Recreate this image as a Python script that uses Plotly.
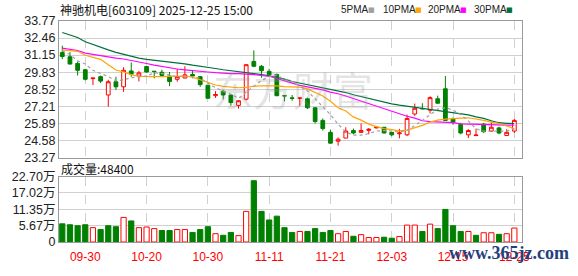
import plotly.graph_objects as go

# ---------------- data ----------------
opens = [31.34, 31.02, 30.51, 30.02, 29.34, 29.49, 28.08, 29.10, 28.71, 29.93,
         29.54, 30.27, 29.91, 29.83, 29.54, 29.29, 29.39, 29.66, 29.49, 28.83,
         28.03, 28.37, 28.08, 27.28, 27.76, 30.66, 30.29, 29.90, 29.66, 28.03,
         27.86, 27.83, 27.79, 27.10, 26.13, 25.21, 24.53, 24.77, 25.35, 25.21,
         25.36, 25.55, 25.60, 25.21, 25.10, 25.02, 26.62, 27.04, 26.91, 27.79,
         28.56, 26.23, 25.84, 25.02, 24.96, 25.84, 25.31, 25.55, 24.97, 25.31]
highs = [31.87, 31.38, 30.66, 30.09, 29.41, 29.58, 29.25, 29.49, 30.22, 30.58,
         29.93, 30.30, 29.91, 30.02, 29.85, 30.09, 30.29, 29.98, 29.54, 28.87,
         28.37, 28.47, 28.12, 27.69, 30.46, 31.51, 30.39, 30.09, 29.73, 28.05,
         28.08, 27.85, 27.88, 27.15, 26.28, 25.40, 24.82, 25.60, 25.50, 25.89,
         25.53, 25.63, 25.62, 25.21, 25.48, 26.57, 27.42, 27.45, 27.98, 28.03,
         29.54, 26.35, 25.94, 25.45, 25.50, 25.94, 26.04, 25.65, 25.45, 26.23]
lows = [30.83, 30.44, 29.58, 29.20, 28.85, 29.00, 27.18, 28.47, 28.32, 29.49,
        29.12, 29.80, 29.36, 29.49, 28.76, 29.10, 29.36, 29.36, 28.71, 27.83,
        27.86, 27.74, 27.25, 27.03, 27.66, 30.22, 29.41, 29.49, 27.98, 27.59,
        27.64, 27.25, 27.01, 25.89, 25.35, 24.33, 24.19, 24.77, 25.06, 25.16,
        25.06, 25.52, 25.14, 24.92, 24.75, 24.92, 26.48, 27.00, 26.67, 27.40,
        26.08, 25.79, 25.06, 24.77, 24.95, 25.16, 25.26, 25.06, 24.92, 25.16]
closes = [31.04, 30.46, 29.98, 29.29, 29.38, 29.15, 29.10, 28.71, 29.98, 29.69,
          29.78, 29.85, 29.89, 29.58, 29.12, 29.49, 29.63, 29.54, 28.88, 27.83,
          28.12, 28.08, 27.50, 27.64, 30.41, 30.29, 29.95, 29.63, 28.03, 28.01,
          27.82, 27.85, 27.10, 26.04, 25.50, 24.38, 24.68, 25.31, 25.16, 25.35,
          25.45, 25.60, 25.16, 25.02, 25.16, 26.28, 27.06, 27.02, 27.88, 27.45,
          26.13, 25.99, 25.16, 25.35, 25.00, 25.26, 25.60, 25.16, 25.21, 26.13]

ma5 = [31.48, 31.19, 30.71, 30.46, 29.98, 29.73, 29.49, 29.17, 29.25, 29.42,
       29.49, 29.54, 29.78, 29.73, 29.61, 29.49, 29.54, 29.49, 29.36, 29.00,
       28.64, 28.39, 28.15, 27.83, 28.27, 28.71, 29.20, 29.49, 29.61, 29.25,
       29.12, 28.76, 28.39, 27.79, 27.18, 26.57, 25.84, 25.24, 24.99, 24.99,
       25.11, 25.31, 25.35, 25.31, 25.24, 25.35, 25.72, 26.13, 26.57, 26.99,
       27.10, 26.94, 26.57, 26.08, 25.48, 25.31, 25.31, 25.31, 25.31, 25.48]
ma10 = [31.55, 31.50, 31.44, 31.14, 31.00, 30.82, 30.40, 30.00, 29.85, 29.65,
        29.52, 29.49, 29.49, 29.49, 29.49, 29.52, 29.54, 29.45, 29.25, 29.05,
        28.85, 28.74, 28.68, 28.64, 28.66, 28.76, 28.78, 28.80, 28.78, 28.72,
        28.71, 28.69, 28.55, 28.30, 28.00, 27.60, 27.10, 26.85, 26.40, 26.15,
        25.84, 25.65, 25.50, 25.42, 25.32, 25.38, 25.55, 25.75, 26.00, 26.15,
        26.22, 26.28, 26.30, 26.33, 26.25, 26.13, 26.00, 25.89, 25.70, 25.48]
ma20 = [31.68, 31.60, 31.50, 31.30, 31.20, 31.10, 30.98, 30.92, 30.85, 30.75,
        30.62, 30.50, 30.38, 30.28, 30.15, 30.08, 30.02, 29.98, 29.93, 29.85,
        29.80, 29.75, 29.73, 29.73, 29.70, 29.65, 29.58, 29.52, 29.35, 29.15,
        29.00, 28.82, 28.70, 28.58, 28.48, 28.30, 28.18, 28.00, 27.80, 27.62,
        27.42, 27.25, 27.00, 26.80, 26.62, 26.45, 26.30, 26.10, 26.03, 26.00,
        26.00, 25.95, 25.86, 25.84, 25.80, 25.78, 25.77, 25.77, 25.77, 25.77]
ma30 = [32.89, 32.70, 32.50, 32.17, 31.95, 31.75, 31.55, 31.36, 31.20, 31.05,
        30.92, 30.82, 30.75, 30.68, 30.62, 30.58, 30.48, 30.38, 30.30, 30.24,
        30.12, 30.02, 29.95, 29.90, 29.83, 29.74, 29.65, 29.56, 29.45, 29.30,
        29.12, 29.00, 28.88, 28.76, 28.65, 28.52, 28.40, 28.27, 28.10, 27.95,
        27.80, 27.65, 27.50, 27.40, 27.30, 27.22, 27.10, 27.04, 26.98, 26.88,
        26.78, 26.72, 26.65, 26.55, 26.40, 26.28, 26.10, 25.95, 25.90, 25.89]

# volume in 万 (10,000 shares)
volumes = [6.31, 5.98, 5.65, 5.98, 4.98, 4.32, 5.65, 5.32, 8.53, 7.31,
           4.98, 5.20, 4.65, 3.99, 3.99, 4.32, 4.32, 3.32, 4.32, 5.32,
           2.88, 2.33, 3.32, 2.21, 10.63, 21.26, 10.63, 7.64, 8.97, 4.98,
           3.32, 3.65, 3.65, 4.65, 3.32, 3.99, 2.88, 3.65, 1.99, 2.55,
           1.55, 1.55, 1.66, 1.33, 1.88, 5.87, 5.87, 3.65, 6.20, 4.65,
           11.30, 5.65, 3.65, 3.65, 2.33, 3.21, 3.21, 2.66, 2.88, 4.84]
# 1 = up (red hollow), 0 = down (green)
vol_up = [0, 0, 0, 0, 1, 0, 0, 0, 1, 0,
          1, 1, 1, 0, 0, 1, 1, 0, 0, 0,
          1, 0, 0, 1, 1, 0, 0, 0, 0, 0,
          0, 1, 0, 0, 0, 0, 1, 1, 0, 1,
          1, 1, 0, 0, 1, 1, 1, 0, 1, 0,
          0, 0, 0, 1, 0, 1, 1, 0, 1, 1]

tick_idx = [3, 11, 19, 27, 35, 43, 51, 59]
tick_labels = ["09-30", "10-20", "10-30", "11-11", "11-21", "12-03", "12-15", "12-25"]
price_ticks = [23.27, 24.58, 25.89, 27.21, 28.52, 29.83, 31.15, 32.46, 33.77]
vol_ticks = [0, 5.67, 11.35, 17.02, 22.70]
vol_tick_labels = ["0", "5.67万", "11.35万", "17.02万", "22.70万"]

title_text = "神驰机电[603109] 2025-12-25 15:00"

# ---------------- styles ----------------
RED = "#ff0000"
GREEN = "#008000"
C5, C10, C20, C30 = "#a0a0a0", "#ffa500", "#ff00ff", "#006f3c"
GRID = "#d0d0d0"
BORDER = "#9a9a9a"

x = list(range(len(closes)))

fig = go.Figure()

fig.add_trace(go.Candlestick(
    x=x, open=opens, high=highs, low=lows, close=closes,
    increasing=dict(line=dict(color=RED, width=1), fillcolor="#ffffff"),
    decreasing=dict(line=dict(color=GREEN, width=1), fillcolor=GREEN),
    whiskerwidth=0, xaxis="x", yaxis="y", hoverinfo="skip", showlegend=False,
))

for vals, col, dash, w in [(ma30, C30, "solid", 1.2), (ma20, C20, "solid", 1.2),
                           (ma10, C10, "solid", 1.2), (ma5, C5, "dot", 1.2)]:
    fig.add_trace(go.Scatter(x=x, y=vals, mode="lines",
                             line=dict(color=col, width=w, dash=dash),
                             xaxis="x", yaxis="y", hoverinfo="skip", showlegend=False))

fig.add_trace(go.Bar(
    x=x, y=volumes, width=0.68,
    marker=dict(color=["#ffffff" if u else GREEN for u in vol_up],
                line=dict(color=[RED if u else GREEN for u in vol_up], width=1)),
    xaxis="x2", yaxis="y2", hoverinfo="skip", showlegend=False,
))

xr = [-0.43, 60.0]
common_x = dict(range=xr, tickvals=tick_idx, showgrid=True, gridcolor=GRID,
                griddash="dash", gridwidth=1, showline=True, mirror=True,
                linecolor=BORDER, linewidth=1, zeroline=False, ticks="",
                fixedrange=True)

fig.update_layout(
    width=578, height=276,
    margin=dict(l=57, r=56, t=21, b=22),
    paper_bgcolor="#ffffff", plot_bgcolor="#ffffff",
    font=dict(family="Liberation Sans, Noto Sans CJK SC, sans-serif", color="#222222"),
    xaxis=dict(domain=[0, 1], anchor="y", showticklabels=False,
               rangeslider=dict(visible=False), **common_x),
    xaxis2=dict(domain=[0, 1], anchor="y2", showticklabels=True, ticktext=tick_labels,
                ticklabelstandoff=4,
                tickfont=dict(size=12, color=RED), **common_x),
    yaxis=dict(domain=[0.382, 1], range=[price_ticks[0], price_ticks[-1]],
               tickvals=price_ticks, ticktext=[f"{v:.2f}" for v in price_ticks],
               showgrid=True, gridcolor=GRID, showline=True, mirror=True,
               linecolor=BORDER, zeroline=False, ticks="",
               tickfont=dict(size=12.5, color="#222222")),
    yaxis2=dict(domain=[0, 0.296], range=[0, 22.70], tickvals=vol_ticks,
                ticktext=vol_tick_labels, showgrid=True, gridcolor=GRID,
                showline=True, mirror=True, linecolor=BORDER, zeroline=False,
                ticks="", tickfont=dict(size=12.5, color="#222222")),
    bargap=0.3,
)

ann = []
# title
ann.append(dict(text=title_text, x=-0.002, y=1.0515, xref="paper", yref="paper",
                xanchor="left", yanchor="middle", showarrow=False,
                font=dict(family="Noto Sans CJK SC", size=12, color="#111111")))
# legend
leg = [("5PMA", 338.5, 365, C5), ("10PMA", 380.5, 413, C10),
       ("20PMA", 425.5, 458, C20), ("30PMA", 471.5, 504, C30)]
for name, tx, sx, col in leg:
    ann.append(dict(text=name, x=(tx - 57) / 465, y=1.0515, xref="paper", yref="paper",
                    xanchor="left", yanchor="middle", showarrow=False,
                    font=dict(family="Liberation Sans Narrow, Liberation Sans", size=10, color="#222222")))
    ann.append(dict(text="■", x=(sx - 57) / 465, y=1.0515, xref="paper", yref="paper",
                    xanchor="left", yanchor="middle", showarrow=False,
                    font=dict(family="DejaVu Sans", size=7, color=col)))
# volume header
ann.append(dict(text=f"成交量:{int(round(volumes[-1] * 10000))}", x=0.0, y=0.3305,
                xref="paper", yref="paper", xanchor="left", yanchor="middle",
                showarrow=False, font=dict(family="Noto Sans CJK SC", size=12, color="#111111")))
# watermarks
ann.append(dict(text="东方财富", x=(292 - 57) / 465, y=(254 - 93) / 233, xref="paper",
                yref="paper", xanchor="center", yanchor="middle", showarrow=False,
                font=dict(family="Noto Sans CJK SC", size=40, color="rgba(150,150,150,0.26)")))
ann.append(dict(text="<b>www.365jz.com</b>", x=(571 - 57) / 465, y=(254 - 266) / 233,
                xref="paper", yref="paper",
                xanchor="right", yanchor="middle", showarrow=False,
                font=dict(family="Liberation Serif", size=18, color="#243f7c")))
fig.update_layout(annotations=ann)

fig.write_html("out.html")
